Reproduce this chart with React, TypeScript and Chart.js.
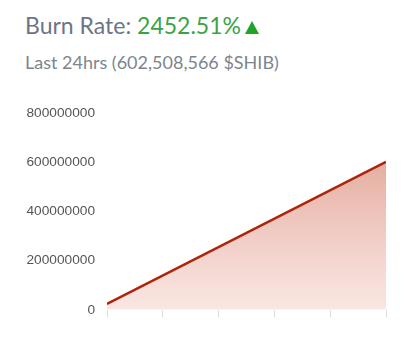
import React, { useEffect, useRef } from "react";
import { Chart, registerables } from "chart.js";

Chart.register(...registerables);

const xPositions = [0, 5];
const burnValues = [23600000, 602508566];
const yTicks = [0, 200000000, 400000000, 600000000, 800000000];
const titleLabel = "Burn Rate:";
const rateText = "2452.51%";
const subtitle = "Last 24hrs (602,508,566 $SHIB)";

export default function App() {
  const ref = useRef<HTMLCanvasElement | null>(null);
  useEffect(() => {
    if (!ref.current) return;
    const chart = new Chart(ref.current, {
      type: "line",
      data: {
        datasets: [
          {
            data: xPositions.map((x, i) => ({ x, y: burnValues[i] })),
            borderColor: "#ad240a",
            borderWidth: 2.5,
            pointRadius: 0,
            tension: 0,
            fill: "origin",
            backgroundColor: (ctx: any) => {
              const area = ctx.chart.chartArea;
              if (!area) return "rgba(220,140,120,0.4)";
              const g = ctx.chart.ctx.createLinearGradient(0, area.top, 0, area.bottom);
              g.addColorStop(0, "rgba(196,86,60,0.62)");
              g.addColorStop(1, "rgba(226,130,110,0.2)");
              return g;
            },
          },
        ],
      },
      options: {
        animation: false,
        responsive: false,
        maintainAspectRatio: false,
        layout: { padding: { top: 6, right: 20, bottom: 10, left: 0 } },
        plugins: { legend: { display: false }, tooltip: { enabled: false } },
        scales: {
          x: {
            type: "linear",
            min: 0,
            max: 5,
            ticks: { display: false, stepSize: 1 },
            grid: { display: true, drawOnChartArea: false, drawTicks: true, tickLength: 8, color: "#dddddd" },
            border: { display: false },
          },
          y: {
            min: 0,
            max: 800000000,
            afterBuildTicks: (s: any) => {
              s.ticks = yTicks.map((v) => ({ value: v }));
            },
            afterFit: (s: any) => {
              s.width = 107;
            },
            ticks: {
              color: "#555555",
              padding: 12,
              font: { family: "Liberation Sans", size: 13.7 },
              callback: (v: any) => String(v),
            },
            grid: { display: false, drawTicks: false },
            border: { display: false },
          },
        },
      },
    });
    return () => chart.destroy();
  }, []);

  return (
    <div style={{ position: "fixed", left: 0, top: 0, width: 406, height: 337, background: "#fff", fontFamily: "Lato, 'Open Sans', sans-serif" }}>
      <div style={{ position: "absolute", left: 25, top: 11, fontSize: 23, lineHeight: "28px", whiteSpace: "nowrap" }}>
        <span style={{ color: "#6b7585" }}>{titleLabel} </span>
        <span style={{ color: "#3aa346" }}>{rateText}</span>
        <span
          style={{
            display: "inline-block",
            width: 0,
            height: 0,
            marginLeft: 4,
            borderLeft: "7px solid transparent",
            borderRight: "7px solid transparent",
            borderBottom: "13px solid #1fa32a",
          }}
        />
      </div>
      <div style={{ position: "absolute", left: 25, top: 52, fontSize: 18, lineHeight: "21.6px", color: "#7d8590", whiteSpace: "nowrap" }}>
        {subtitle}
      </div>
      <canvas ref={ref} width={406} height={237} style={{ position: "absolute", left: 0, top: 93, width: 406, height: 237 }} />
    </div>
  );
}
